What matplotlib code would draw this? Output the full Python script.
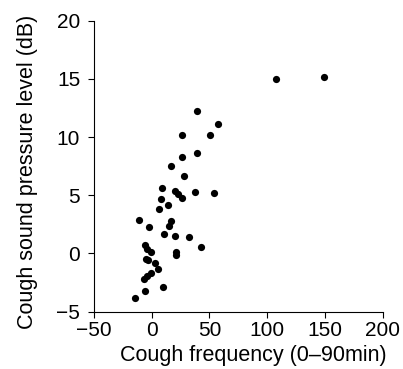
import matplotlib
matplotlib.use('Agg')
import matplotlib.pyplot as plt

# cough frequency (0-90 min) and cough sound pressure level (dB)
freq = [107.9, 149.2, 39.2, 57.4, 26.2, 50.2, 26.2, 39.2, 16.4, 28.2,
        8.6, 20.1, 23.0, 25.9, 37.5, 53.6, 7.8, 14.3, 6.6, -10.7,
        -2.4, 16.4, 15.2, 10.6, 20.1, 32.5, 42.4, 20.7, 20.7,
        -5.5, -4.5, -1.0, -5.0, -3.5, 3.0, 5.0, -1.0, -4.0, -6.5,
        9.5, -6.0, -14.5]
spl = [15.0, 15.2, 12.2, 11.1, 10.2, 10.2, 8.3, 8.6, 7.5, 6.7,
       5.6, 5.4, 5.1, 4.8, 5.3, 5.2, 4.7, 4.2, 3.8, 2.9,
       2.3, 2.8, 2.4, 1.7, 1.5, 1.45, 0.6, 0.1, -0.13,
       0.75, 0.35, 0.15, -0.45, -0.6, -0.8, -1.35, -1.7, -1.95, -2.2,
       -2.9, -3.2, -3.8]

x_ticks = [-50, 0, 50, 100, 150, 200]
y_ticks = [-5, 0, 5, 10, 15, 20]

plt.rcParams['font.family'] = ['Liberation Sans', 'DejaVu Sans']

fig = plt.figure(figsize=(4.03, 3.69), dpi=100)
ax = fig.add_axes([0.2333, 0.1553, 0.7163, 0.7886])

ax.plot(freq, spl, 'o', color='black', markersize=5.2, markeredgewidth=0)

ax.set_xlim(-50, 200)
ax.set_ylim(-5, 20)
ax.set_xticks(x_ticks)
ax.set_yticks(y_ticks)
ax.spines['top'].set_visible(False)
ax.spines['right'].set_visible(False)
ax.spines['left'].set_linewidth(0.8)
ax.spines['bottom'].set_linewidth(0.8)
ax.tick_params(direction='out', length=4, width=0.8, labelsize=15)
ax.tick_params(axis='x', pad=2.5)
ax.tick_params(axis='y', pad=6)

ax.set_xlabel('Cough frequency (0\u201390min)', fontsize=15.5, x=0.5525, labelpad=4)
ax.set_ylabel('Cough sound pressure level (dB)', fontsize=15.5, y=0.482, labelpad=13)

fig.savefig('out.png', dpi=100)
